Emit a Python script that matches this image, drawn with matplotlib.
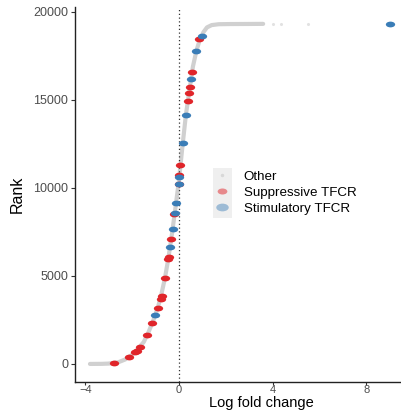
import matplotlib
matplotlib.use("Agg")
import matplotlib.pyplot as plt
from matplotlib.path import Path
from matplotlib.transforms import Affine2D
from matplotlib.lines import Line2D
from matplotlib.patches import Rectangle

plt.rcParams["font.family"] = ["Liberation Sans", "DejaVu Sans"]

# ------------------------------
# data
# ------------------------------
# background genes (drawn as a dense grey line in the original)
other_lfc = [-3.8, -3.3, -3.0, -2.6, -2.3, -2.0, -1.8, -1.5, -1.3, -1.1, -0.9,
             -0.75, -0.6, -0.45, -0.3, -0.15, 0.0, 0.15, 0.3, 0.45, 0.6, 0.75,
             0.9, 1.05, 1.2, 1.4, 1.7, 2.2, 3.0, 3.6]
other_rank = [0, 5, 20, 90, 250, 520, 780, 1250, 1800, 2450, 3200,
              3950, 4850, 6000, 7350, 8850, 10400, 12350, 14160, 15550, 16900, 17800,
              18450, 18850, 19120, 19250, 19300, 19310, 19315, 19320]
# sparse tail of "Other"
tail_lfc = [4.0, 4.35, 5.5]
tail_rank = [19320, 19320, 19320]

supp_lfc = [0.88, 0.54, 0.47, 0.43, 0.40, 0.06, 0.01, 0.00, -0.19, -0.33,
            -0.44, -0.46, -0.60, -0.74, -0.78, -0.90, -1.14, -1.35, -1.67,
            -1.81, -1.88, -2.12, -2.79]
supp_rank = [18460, 16570, 15750, 15380, 14960, 11280, 10740, 10220, 8520, 7080,
             6060, 5960, 4900, 3880, 3690, 3180, 2330, 1670, 980,
             760, 700, 400, 60]

stim_lfc = [9.02, 0.99, 0.73, 0.51, 0.30, 0.16, 0.01, 0.00, -0.13, -0.18,
            -0.27, -0.37, -1.00]
stim_rank = [19290, 18630, 17760, 16170, 14160, 12540, 10600, 10220, 9160, 8590,
             7650, 6660, 2770]

x_ticks = [-4, 0, 4, 8]
y_ticks = [0, 5000, 10000, 15000, 20000]

RED = "#E0252A"
BLUE = "#3A7DB7"
GREY = "#D0D0D0"

# ellipse marker (points look horizontally stretched)
ell = Path.unit_circle().transformed(Affine2D().scale(1.0, 0.62))

# ------------------------------
# plot
# ------------------------------
fig = plt.figure(figsize=(4.01, 4.12), dpi=100)
ax = fig.add_axes([0.187, 0.073, 0.813, 0.91])

ax.plot(other_lfc, other_rank, color=GREY, lw=3.0, solid_capstyle="round", zorder=1)
ax.plot(tail_lfc, tail_rank, ls="none", marker="o", ms=1.2, color="#E2E2E2", zorder=1)

ax.axvline(0, color="#333333", lw=0.9, ls=(0, (1, 2)), zorder=2)

ax.plot(supp_lfc, supp_rank, ls="none", marker=ell, ms=6.7, color=RED, mew=0, zorder=3)
ax.plot(stim_lfc, stim_rank, ls="none", marker=ell, ms=6.7, color=BLUE, mew=0, zorder=4)

ax.set_xlim(-4.44, 9.49)
ax.set_ylim(-1022, 20278)
ax.set_xticks(x_ticks)
ax.set_yticks(y_ticks)
ax.tick_params(labelsize=9, labelcolor="#4D4D4D", length=3, width=0.8,
               color="#333333", pad=2)
ax.tick_params(axis="x", labelsize=8, length=2, pad=0)

for s in ["top", "right"]:
    ax.spines[s].set_visible(False)
for s in ["left", "bottom"]:
    ax.spines[s].set_linewidth(1.0)
    ax.spines[s].set_color("#222222")

ax.set_xlabel("Log fold change", fontsize=10.5)
ax.xaxis.set_label_coords(0.571, -0.0387)
ax.set_ylabel("Rank", fontsize=11.5, labelpad=6)

# legend with grey key background
ax.add_patch(Rectangle((213 / 401, 1 - 218 / 412), 19 / 401, 50 / 412,
                       transform=fig.transFigure, facecolor="#EFEFEF",
                       edgecolor="none", zorder=0.5, clip_on=False))
handles = [
    Line2D([], [], ls="none", marker="o", ms=1.5, color="#D8D8D8"),
    Line2D([], [], ls="none", marker=ell, ms=7, color=RED, alpha=0.5, mew=0),
    Line2D([], [], ls="none", marker=ell, ms=9, color=BLUE, alpha=0.45, mew=0),
]
labels = ["Other", "Suppressive TFCR", "Stimulatory TFCR"]
leg = ax.legend(handles, labels, loc="upper left",
                bbox_to_anchor=(205 / 401, 1 - 160 / 412),
                bbox_transform=fig.transFigure, frameon=False, fontsize=9.6,
                handlelength=1.0, handletextpad=1.1, labelspacing=0.28, borderpad=0.3)
leg.set_zorder(6)

fig.savefig("out.png", dpi=100)
